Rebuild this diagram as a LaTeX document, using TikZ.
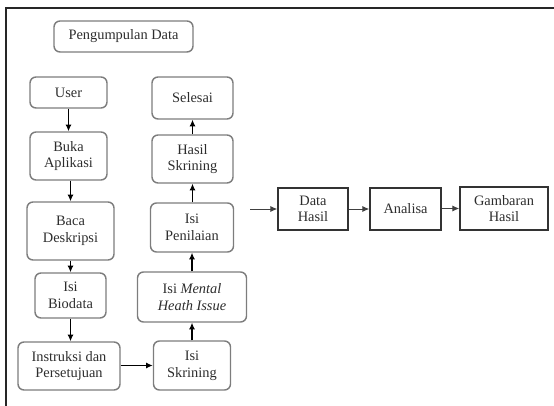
\documentclass[tikz,border=0pt]{standalone}
\usepackage{fontspec}
\setmainfont{Liberation Serif}
\usepackage{xcolor}
\usepackage{tikz}
\usetikzlibrary{arrows.meta}
\definecolor{boxgray}{RGB}{125, 125, 125}
\definecolor{txtgray}{RGB}{45, 45, 45}

\tikzset{
  rbox/.style={draw=boxgray, line width=1.1pt, rounded corners=4.5pt, align=center,
    inner sep=1pt, text=txtgray, font=\fontsize{10.8}{12.5}\selectfont},
  sbox/.style={draw=black!80, line width=1.3pt, align=center,
    inner sep=1pt, text=txtgray, font=\fontsize{10.8}{12.5}\selectfont},
  arr/.style={line width=0.8pt, -{Latex[length=5pt,width=4.5pt]}},
  thinarr/.style={line width=0.55pt, draw=black!75, -{Latex[length=5pt,width=4.5pt]}}
}

\begin{document}
\begin{tikzpicture}[x=0.75pt,y=0.75pt,yscale=-1,xscale=1]
\useasboundingbox (0,0) rectangle (554,406);

%Frame
\draw [line width=1.5pt, black!85] (6,406) -- (6,8) -- (554,8) ;

% Rounded Rect
\node [rbox, minimum width=104.25pt, minimum height=23.25pt] (kumpul) at (123.5,36.5) {Pengumpulan Data};

%left column
\node [rbox, minimum width=57.75pt, minimum height=23.25pt] (user) at (68.5,92.5) {User};
\node [rbox, minimum width=57.75pt, minimum height=36pt] (buka) at (68.5,156) {Buka\\Aplikasi};
\node [rbox, minimum width=65.25pt, minimum height=43.5pt] (baca) at (70.5,231) {Baca\\Deskripsi};
\node [rbox, minimum width=53.25pt, minimum height=33.75pt] (biodata) at (70.5,295.5) {Isi\\Biodata};
\node [rbox, minimum width=76.5pt, minimum height=36pt] (instruksi) at (69,366) {Instruksi dan\\Persetujuan};

%right column
\node [rbox, minimum width=57.75pt, minimum height=36.75pt] (skrining) at (192,365.5) {Isi\\Skrining};
\node [rbox, minimum width=81.75pt, minimum height=37.5pt] (mental) at (192,297) {Isi \textit{Mental}\\\textit{Heath Issue}};
\node [rbox, minimum width=62.25pt, minimum height=36.75pt] (nilai) at (192,227.5) {Isi\\Penilaian};
\node [rbox, minimum width=60.75pt, minimum height=36pt] (hasil) at (192.5,159) {Hasil\\Skrining};
\node [rbox, minimum width=60.75pt, minimum height=31.5pt] (selesai) at (192.5,98) {Selesai};

%Rect
\node [sbox, minimum width=52.5pt, minimum height=31.5pt] (data) at (313,209) {Data\\Hasil};
\node [sbox, minimum width=53.25pt, minimum height=31.5pt] (analisa) at (405.5,209) {Analisa};
\node [sbox, minimum width=66pt, minimum height=32.25pt] (gambar) at (504,208.5) {Gambaran\\Hasil};
\coordinate (masuk) at (250,209);

%Straight Lines
\draw [arr] (user) -- (buka) ;
\draw [arr] (baca |- buka.south) -- (baca.north) ;
\draw [arr] (baca) -- (biodata) ;
\draw [arr] (biodata.south) -- (biodata.south |- instruksi.north) ;
\draw [arr] (instruksi.east |- skrining) -- (skrining.west) ;
\draw [arr] (skrining) -- (mental) ;
\draw [arr] (mental) -- (nilai) ;
\draw [arr] (nilai.north -| hasil) -- (hasil.south) ;
\draw [arr] (hasil) -- (selesai) ;
\draw [thinarr] (masuk) -- (data.west) ;
\draw [thinarr] (data) -- (analisa) ;
\draw [thinarr] (analisa.east |- gambar) -- (gambar.west) ;

\end{tikzpicture}
\end{document}
